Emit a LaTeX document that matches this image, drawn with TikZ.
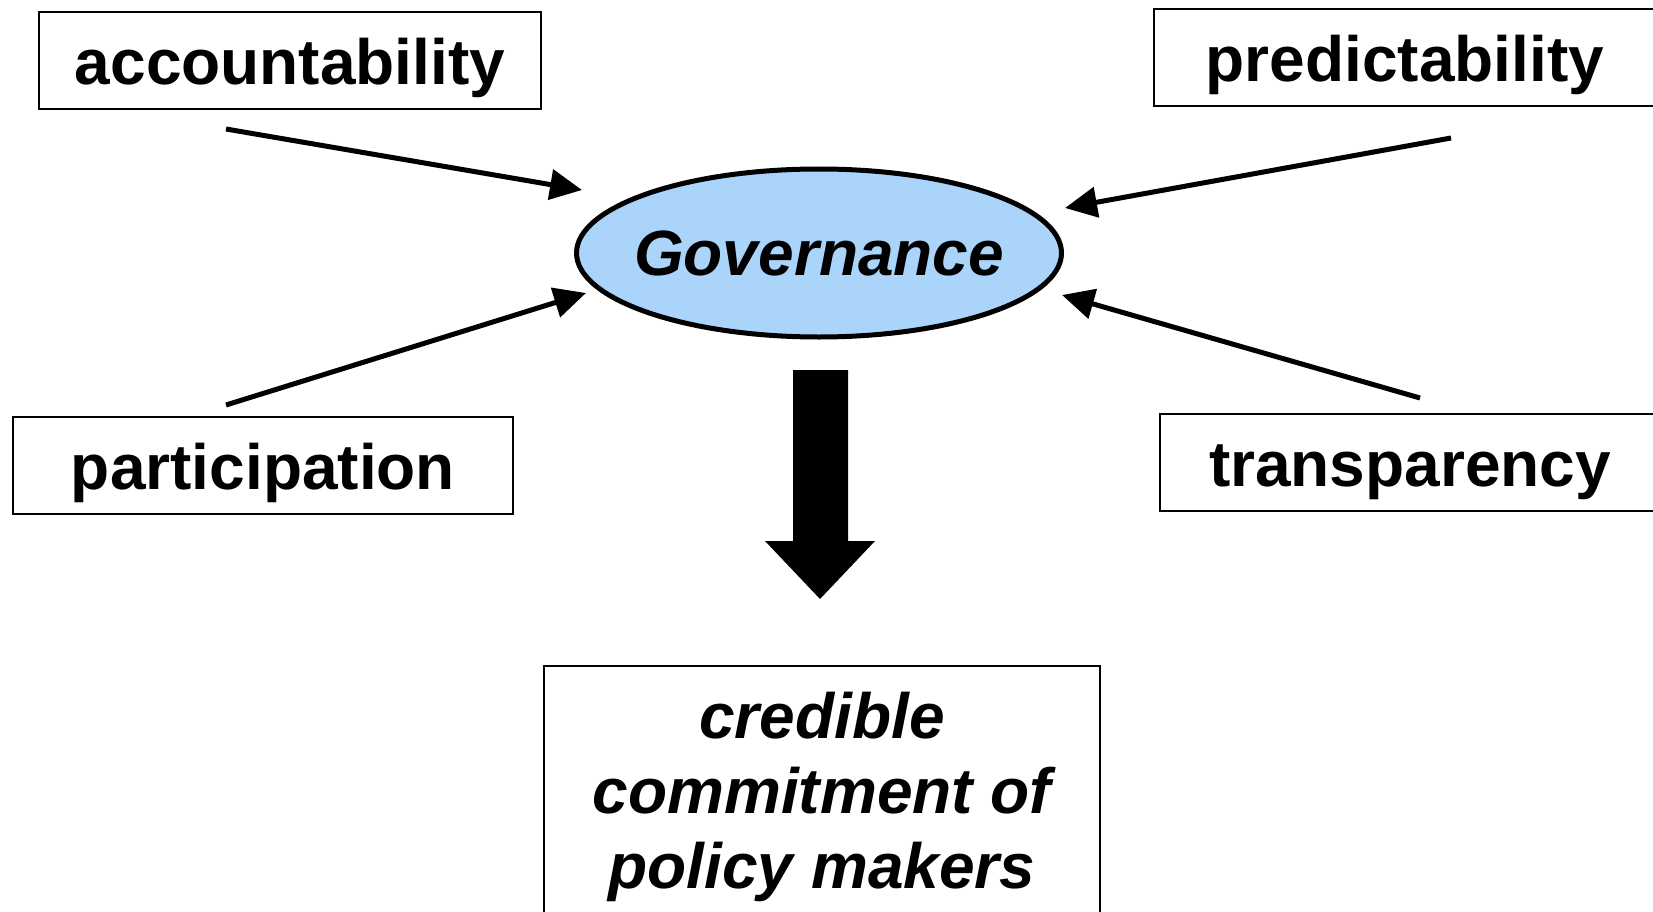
\documentclass[tikz,border=0pt]{standalone}
\usepackage{fontspec}
\setmainfont{Liberation Sans}
\usetikzlibrary{shapes.geometric,arrows.meta}
\definecolor{govblue}{RGB}{170,212,250}
\begin{document}
\begin{tikzpicture}[x=1pt,y=-1pt,
  bigfont/.style={font=\fontsize{64}{75}\selectfont\bfseries},
  box/.style={draw, line width=2pt, minimum height=97pt, inner sep=0pt, text height=60pt, text depth=12pt, bigfont},
  conn/.style={line width=5pt, -{Triangle[length=32pt,width=30pt]}, shorten >=0pt}
]
\useasboundingbox (0,0) rectangle (1653,912);
\fill[white] (0,0) rectangle (1653,912);

\node[box, minimum width=502pt] (acc) at (290,61) {accountability};
\node[box, minimum width=502pt] (pred) at (1405,57.5) {predictability};
\node[box, minimum width=500pt] (part) at (263,465) {participation};
\node[box, minimum width=500pt] (trans) at (1410,462.5) {transparency};

\node[draw, ellipse, line width=5pt, fill=govblue, minimum width=485pt, minimum height=168pt, inner sep=0pt] (gov) at (819,253) {};
\node[font=\fontsize{64}{75}\selectfont\bfseries\itshape, inner sep=0pt] (govtxt) at (gov.center) {Governance};

\node[draw, line width=2pt, minimum width=556pt, minimum height=300pt, anchor=north, inner sep=0pt] (cred) at (822,665) {};
\node[font=\fontsize{64}{75}\selectfont\bfseries\itshape, align=center, anchor=north] (credtxt) at (822,689) {credible\\commitment of\\policy makers};

\coordinate (accs) at (226,129);
\coordinate (acce) at (582,190);
\coordinate (preds) at (1451,138);
\coordinate (prede) at (1065,208);
\coordinate (parts) at (226,405);
\coordinate (parte) at (586,293);
\coordinate (transs) at (1420,398);
\coordinate (transe) at (1062,295);

\draw[conn] (accs) -- (acce);
\draw[conn] (preds) -- (prede);
\draw[conn] (parts) -- (parte);
\draw[conn] (transs) -- (transe);

\coordinate (btip) at (820,599);
\fill[black] (793,370) -- (848,370) -- (848,541) -- (875,541) -- (btip) -- (765,541) -- (793,541) -- cycle;
\end{tikzpicture}
\end{document}
